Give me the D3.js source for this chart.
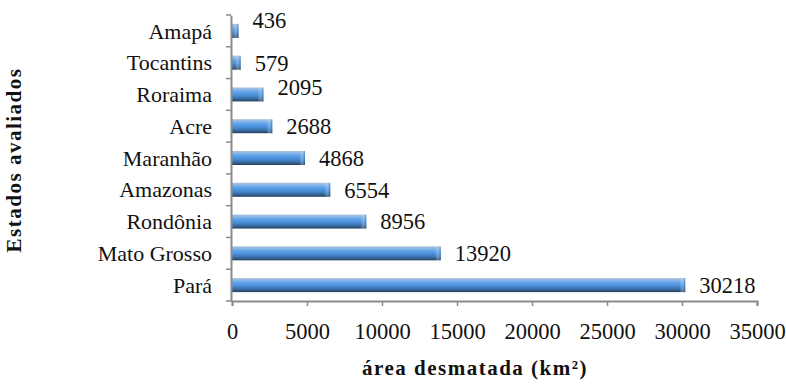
<!DOCTYPE html>
<html>
<head>
<meta charset="utf-8">
<script src="https://cdn.jsdelivr.net/npm/d3@7"></script>
<style>
  html, body { margin: 0; padding: 0; background: #fff; }
  svg { display: block; }
</style>
</head>
<body>
<svg id="chart" width="786" height="385" font-family="Liberation Serif"></svg>
<script>
// Desmatamento acumulado por estado da Amazônia Legal
const estados = ["Amapá", "Tocantins", "Roraima", "Acre", "Maranhão", "Amazonas", "Rondônia", "Mato Grosso", "Pará"];
const areaDesmatada = [436, 579, 2095, 2688, 4868, 6554, 8956, 13920, 30218];
const xTicks = [0, 5000, 10000, 15000, 20000, 25000, 30000, 35000];
const yTitle = "Estados avaliados";
const xTitle = "área desmatada (km²)";

const FONT = "Liberation Serif";
const svg = d3.select("#chart");
const margin = { left: 232, right: 29, top: 15, bottom: 84 };
const W = 786, H = 385;

const x = d3.scaleLinear().domain([0, 35000]).range([margin.left, W - margin.right]);
const y = d3.scaleBand().domain(estados).range([margin.top, H - margin.bottom]).paddingInner(0.56).paddingOuter(0.28);
const yFull = d3.scaleBand().domain(estados).range([margin.top, H - margin.bottom]);

// cylinder-like shading for bars
const defs = svg.append("defs");
const grad = defs.append("linearGradient").attr("id", "barGrad")
  .attr("x1", 0).attr("y1", 0).attr("x2", 0).attr("y2", 1);
[[0, "#a9bfd8"], [0.14, "#8fb8e6"], [0.32, "#5ea4ec"], [0.55, "#4a8fd8"], [0.78, "#3a6fa8"], [1, "#24405f"]]
  .forEach(([o, c]) => grad.append("stop").attr("offset", o).attr("stop-color", c));
const capGrad = defs.append("linearGradient").attr("id", "capGrad")
  .attr("x1", 0).attr("y1", 0).attr("x2", 1).attr("y2", 0);
[[0, "rgba(255,255,255,0)"], [0.6, "rgba(200,225,250,0.35)"], [1, "rgba(40,70,110,0.35)"]]
  .forEach(([o, c]) => capGrad.append("stop").attr("offset", o).attr("stop-color", c));

// bars
const bars = svg.append("g");
bars.selectAll("rect.bar").data(areaDesmatada).join("rect")
  .attr("class", "bar")
  .attr("x", x(0))
  .attr("y", (d, i) => y(estados[i]))
  .attr("width", d => x(d) - x(0))
  .attr("height", y.bandwidth())
  .attr("fill", "url(#barGrad)");
bars.selectAll("rect.cap").data(areaDesmatada).join("rect")
  .attr("class", "cap")
  .attr("x", d => Math.max(x(0), x(d) - 6))
  .attr("y", (d, i) => y(estados[i]))
  .attr("width", d => Math.min(6, x(d) - x(0)))
  .attr("height", y.bandwidth())
  .attr("fill", "url(#capGrad)");

// value labels (a couple sit slightly higher, as in the original layout)
const labelLift = { "Amapá": -11, "Roraima": -7 };
svg.append("g").selectAll("text").data(areaDesmatada).join("text")
  .attr("x", d => x(d) + 14)
  .attr("y", (d, i) => yFull(estados[i]) + yFull.bandwidth() / 2 + (labelLift[estados[i]] || 0))
  .attr("dy", "0.35em")
  .attr("font-size", 22.5)
  .text(d => d);

// axes
const axisColor = "#8a8a8a";
const gx = svg.append("g").attr("transform", `translate(0,${H - margin.bottom})`)
  .call(d3.axisBottom(x).tickValues(xTicks).tickFormat(d3.format("d")).tickSize(5).tickPadding(17));
const gy = svg.append("g").attr("transform", `translate(${margin.left - 1},0)`)
  .call(d3.axisLeft(yFull).tickValues([]).tickSize(0));

// category ticks sit at band boundaries
gy.selectAll("line.bound").data(d3.range(estados.length + 1)).join("line")
  .attr("class", "bound")
  .attr("x1", -5).attr("x2", 0)
  .attr("y1", i => margin.top + i * yFull.step())
  .attr("y2", i => margin.top + i * yFull.step())
  .attr("stroke", axisColor).attr("stroke-width", 1.5);

[gx, gy].forEach(g => {
  g.attr("font-family", FONT).attr("font-size", 22.5);
  g.select(".domain").attr("stroke", axisColor).attr("stroke-width", 2);
  g.selectAll(".tick line").attr("stroke", axisColor).attr("stroke-width", 1.5);
});

gy.selectAll("text.cat").data(estados).join("text")
  .attr("class", "cat")
  .attr("x", -19)
  .attr("y", d => yFull(d) + yFull.bandwidth() / 2)
  .attr("dy", "0.35em")
  .attr("text-anchor", "end")
  .attr("font-size", 22)
  .text(d => d);

// axis titles
svg.append("text")
  .attr("x", 475).attr("y", 375)
  .attr("text-anchor", "middle")
  .attr("font-size", 21).attr("font-weight", "bold").attr("letter-spacing", 1.5)
  .text(xTitle);
svg.append("text")
  .attr("transform", `translate(21,160) rotate(-90)`)
  .attr("text-anchor", "middle")
  .attr("font-size", 21).attr("font-weight", "bold").attr("letter-spacing", 1.5)
  .text(yTitle);

// one serif face for every label
svg.selectAll("text").attr("font-family", FONT).attr("fill", "#111");
</script>
</body>
</html>
